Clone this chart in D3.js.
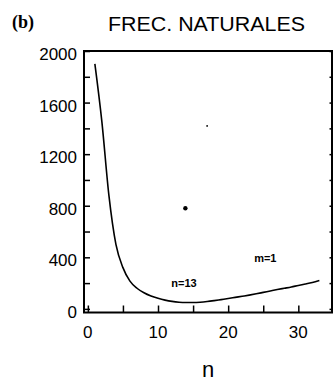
<!DOCTYPE html>
<html><head><meta charset="utf-8">
<script src="https://cdn.jsdelivr.net/npm/d3@7"></script>
<style>body{margin:0;background:#fff}svg{display:block}text{font-family:"Liberation Sans",Arial,sans-serif;fill:#000}</style>
</head><body>
<script>
const nValues = [1,2,3,4,5,6,7,8,9,10,11,12,13,14,15,16,17,18,19,20,21,22,23,24,25,26,27,28,29,30,31,32,33];
const freqValues = [1900,1450,880,500,320,215,160,125,100,82,68,58,52,50,50,52,57,64,72,80,89,98,107,117,128,139,150,160,170,182,193,205,220];
const specks = [{n:13.9, f:781, r:2.2},{n:17.0, f:1419, r:0.9}];
const xTicks = [0,10,20,30];
const xMinorTicks = [0,5,10,15,20,25,30];
const yTicks = [0,400,800,1200,1600,2000];
const yMinorTicks = [0,200,400,600,800,1000,1200,1400,1600,1800,2000];
const title = "FREC.  NATURALES";
const panel = "(b)";
const xLabel = "n";
const annotations = [{text:"n=13", n:11.9, f:170},{text:"m=1", n:23.7, f:360}];

const W=335,H=381;
const svg=d3.select("body").append("svg").attr("width",W).attr("height",H);
const x=d3.scaleLinear().domain([-0.55,34.8]).range([84,332]);
const y=d3.scaleLinear().domain([-28,2000]).range([312.5,51]);

// frame
svg.append("rect").attr("x",x.range()[0]).attr("y",y.range()[1])
  .attr("width",x.range()[1]-x.range()[0]).attr("height",y.range()[0]-y.range()[1])
  .attr("fill","none").attr("stroke","#000").attr("stroke-width",2);

// y axis ticks (inward) and labels
const yAxis=d3.axisLeft(y).tickValues(yMinorTicks).tickSize(-6).tickFormat("");
svg.append("g").attr("transform",`translate(${x.range()[0]},0)`).call(yAxis)
  .call(g=>g.select(".domain").remove())
  .call(g=>g.selectAll("line").attr("stroke","#000").attr("stroke-width",1.5));
svg.append("g").selectAll("text").data(yTicks).join("text")
  .attr("x",77).attr("y",d=>y(d)+9).attr("text-anchor","end")
  .attr("font-size",17).text(d=>d);
// right side small ticks
const yRight=d3.axisRight(y).tickValues(yMinorTicks).tickSize(-2.5).tickFormat("");
svg.append("g").attr("transform",`translate(${x.range()[1]},0)`).call(yRight)
  .call(g=>g.select(".domain").remove())
  .call(g=>g.selectAll("line").attr("stroke","#000").attr("stroke-width",1.5));

// x axis ticks (inward) and labels
const xAxis=d3.axisBottom(x).tickValues(xMinorTicks).tickSize(-7).tickFormat("");
svg.append("g").attr("transform",`translate(0,${y.range()[0]})`).call(xAxis)
  .call(g=>g.select(".domain").remove())
  .call(g=>g.selectAll("line").attr("stroke","#000").attr("stroke-width",1.5));
svg.append("g").selectAll("text").data(xTicks).join("text")
  .attr("x",d=>x(d)).attr("y",338).attr("text-anchor","middle")
  .attr("font-size",17).text(d=>d);

// curve
const line=d3.line().x((d,i)=>x(nValues[i])).y(d=>y(d)).curve(d3.curveMonotoneX);
svg.append("path").datum(freqValues).attr("d",line)
  .attr("fill","none").attr("stroke","#000").attr("stroke-width",1.6);

// specks
svg.append("g").selectAll("circle").data(specks).join("circle")
  .attr("cx",d=>x(d.n)).attr("cy",d=>y(d.f)).attr("r",d=>d.r).attr("fill","#000");

// annotations
svg.append("g").selectAll("text").data(annotations).join("text")
  .attr("x",d=>x(d.n)).attr("y",d=>y(d.f)).attr("font-size",11).attr("font-weight","bold")
  .text(d=>d.text);

// titles
svg.append("text").attr("x",12).attr("y",28).attr("font-size",18).attr("font-weight","bold")
  .style("font-family","'Liberation Serif',serif").text(panel);
svg.append("text").attr("x",108).attr("y",31).attr("font-size",20)
  .attr("textLength",197).attr("lengthAdjust","spacingAndGlyphs").text(title);
svg.append("text").attr("x",208).attr("y",377).attr("text-anchor","middle").attr("font-size",22).text(xLabel);
</script>
</body></html>
